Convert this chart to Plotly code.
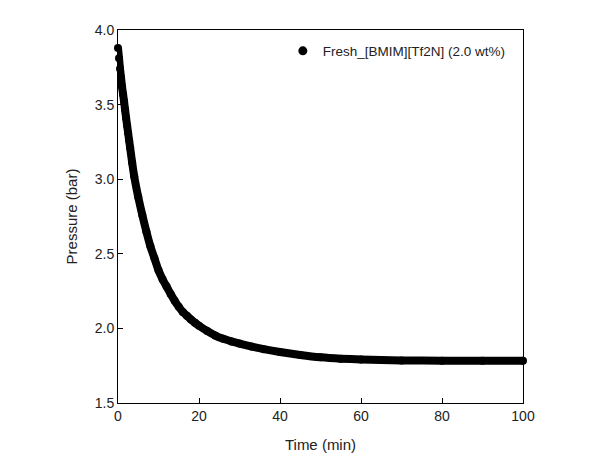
import plotly.graph_objects as go

time_min = [0, 0.25, 0.5, 0.75, 1, 1.25, 1.5, 1.75, 2, 2.25, 2.5, 2.75, 3, 3.5, 4, 5, 6, 7,
            8, 9, 10, 11, 12, 13, 14, 15, 16, 17, 18, 19, 20, 22, 24, 26, 28, 30, 33,
            36, 40, 45, 50, 55, 60, 65, 70, 80, 90, 100]
pressure_bar = [3.88, 3.81, 3.74, 3.68, 3.62, 3.57, 3.52, 3.465, 3.41, 3.36, 3.31, 3.26,
                3.21, 3.11, 3.02, 2.88, 2.76, 2.65, 2.55, 2.47, 2.39, 2.33, 2.28, 2.23,
                2.185, 2.145, 2.11, 2.085, 2.06, 2.038, 2.018, 1.983, 1.952, 1.93,
                1.913, 1.898, 1.878, 1.861, 1.842, 1.822, 1.806, 1.797, 1.792, 1.788,
                1.785, 1.784, 1.783, 1.783]
series_name = "Fresh_[BMIM][Tf2N] (2.0 wt%)"
x_ticks = [0, 20, 40, 60, 80, 100]
y_ticks = [1.5, 2.0, 2.5, 3.0, 3.5, 4.0]

FONT = "Liberation Sans, Arial, sans-serif"

fig = go.Figure()
fig.add_trace(go.Scatter(
    x=time_min, y=pressure_bar, mode="lines+markers",
    line=dict(color="black", width=8, shape="spline", smoothing=0.5),
    marker=dict(color="black", size=8, symbol="circle"),
    showlegend=False, cliponaxis=False,
))
fig.add_trace(go.Scatter(
    x=[None], y=[None], mode="markers", name=series_name,
    marker=dict(color="black", size=9, symbol="circle"),
))

axis_common = dict(
    showline=True, linecolor="black", linewidth=1, mirror=True,
    ticks="inside", ticklen=5, tickwidth=1, tickcolor="black",
    showgrid=False, zeroline=False,
    tickfont=dict(family=FONT, size=14, color="#222"),
)

fig.update_xaxes(range=[0, 100], tickvals=x_ticks,
                 title=dict(text="Time (min)", font=dict(family=FONT, size=15, color="#222"), standoff=16),
                 **axis_common)
fig.update_yaxes(range=[1.5, 4.0], tickvals=y_ticks, tickformat=".1f",
                 title=dict(text="Pressure (bar)", font=dict(family=FONT, size=15, color="#222"), standoff=13),
                 **axis_common)

fig.update_layout(
    width=608, height=468,
    margin=dict(l=117.5, r=85, t=30, b=65, pad=0),
    plot_bgcolor="white", paper_bgcolor="white",
    font=dict(family=FONT, size=14, color="#222"),
    legend=dict(x=0.407, y=0.985, xanchor="left", yanchor="top",
                bgcolor="rgba(0,0,0,0)", font=dict(family=FONT, size=13.5, color="#222")),
)

fig.write_html("out.html")
